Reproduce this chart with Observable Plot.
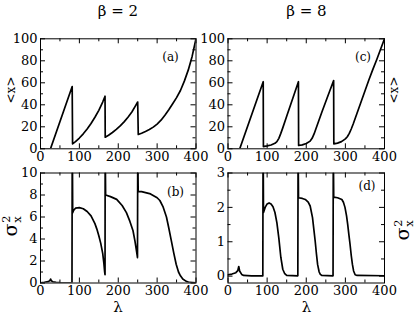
<!DOCTYPE html>
<html><head><meta charset="utf-8">
<script src="https://cdn.jsdelivr.net/npm/d3@7"></script>
<script src="https://cdn.jsdelivr.net/npm/@observablehq/plot@0.6"></script>
<style>
body{margin:0;background:#fff;}
#fig{position:relative;width:415px;height:314px;overflow:hidden;font-family:"DejaVu Serif","Liberation Serif",serif;color:#000;background:#fff;}
.panel{position:absolute;}
.lbl{position:absolute;white-space:nowrap;line-height:1;}
.ss{display:inline-block;font-size:0.6em;line-height:0.95;vertical-align:middle;text-align:left;margin-left:1px;}
.ss span{display:block;}
</style></head><body><div id="fig"></div>
<script>
// ---- data ----
const xMajor = [0, 100, 200, 300, 400];
const xMinor = [50, 150, 250, 350];

// (a) beta = 2, <x>
const lamA = [0,25.7,81.5,82.5,90,100,110,120,130,140,150,160,166,166.5,175,185,195,205,215,225,235,245,250,251.5,260,270,280,290,300,310,320,330,340,350,360,370,380,390,400];
const meanA = [0,0,56.6,4.5,6.5,9.8,13.6,18,23,28.7,35,42.5,47.8,10.5,12.3,14.8,17.6,20.8,24.5,28.7,33.5,39.5,42.5,13,14.2,15.8,17.5,19.7,22.5,26,30.5,35.5,41,46.5,53,61.5,71.5,84,100];

// (c) beta = 8, <x>
const lamC = [0,30,90,90.5,100,110,120,125,130,135,140,150,160,170,180,180.5,190,200,210,215,220,225,230,240,250,260,270,270.5,280,290,300,305,310,315,320,330,340,350,360,370,380,390,400];
const meanC = [0,0,61,2,2.6,3.5,5,6.5,9.5,14,19,29.5,40,50.5,61,3,3.6,4.8,7,9.5,13.5,18.5,23.5,33.5,43,52.5,62,4.5,5.2,6.5,9,11,14,18,22.5,32.5,42.5,52.5,62.5,72,81,90.5,100];

// (b) beta = 2, sigma_x^2
const lamB = [0,10,20,24,26,28,32,40,50,60,81,81.5,82.3,82.8,85,90,100,110,120,130,140,145,150,155,160,163,165,166,166.3,167,167.5,180,196,210,221,230,238,243,247,249.5,250,250.8,251.3,260,283,300,307,315,324,330,336.5,343,349,355,360,366,375,383,400];
const varB = [0.02,0.05,0.12,0.22,0.36,0.2,0.1,0.05,0.03,0.02,0.01,10,10,6.4,6.6,6.8,6.85,6.75,6.5,6.1,5.4,4.9,4.3,3.6,2.7,1.8,1.0,0.75,10,10,8.0,7.85,7.6,7.05,6.4,5.6,4.75,3.8,2.9,2.3,10,10,8.3,8.3,8.1,7.75,7.5,6.95,6.0,5.0,3.85,2.7,1.7,1.0,0.65,0.36,0.15,0.05,0.01];

// (d) beta = 8, sigma_x^2
const lamD = [0,10,20,25,27.5,30,35,40,60,89,89.5,90.2,90.7,95,100,105,110,115,120,125,130,135,140,145,150,178.5,179,179.7,180.2,190,197.5,205,210,216,220,223,226,229,233,236,240,268.5,269,269.7,270.2,280,291,295,299,303,306,309,312,315,318,321,325,330,400];
const varD = [0.04,0.06,0.1,0.16,0.28,0.14,0.05,0.02,0.01,0.01,3,3,1.85,2.0,2.1,2.13,2.1,2.02,1.85,1.55,1.1,0.55,0.2,0.07,0.02,0.01,3,3,2.28,2.26,2.23,2.15,2.04,1.7,1.3,1.0,0.65,0.34,0.12,0.05,0.02,0.01,3,3,2.3,2.28,2.23,2.15,2.0,1.75,1.5,1.2,0.92,0.6,0.34,0.15,0.04,0.02,0.01];

const yMajorMean = [0, 20, 40, 60, 80, 100];
const yMinorMean = [10, 30, 50, 70, 90];
const yMajorB = [0, 2, 4, 6, 8, 10];
const yMinorB = [1, 3, 5, 7, 9];
const yMajorD = [0, 1, 2, 3];
const yMinorD = [0.5, 1.5, 2.5];

const tags = ["(a)", "(b)", "(c)", "(d)"];
const titles = ["β = 2", "β = 8"];
const xLabel = "λ";

// ---- drawing ----
const FONT = "'DejaVu Serif', 'Liberation Serif', serif";
const fig = document.getElementById("fig");

function panel(o) {
  const fw = o.w - o.ml - o.mr, fh = o.h - o.mt - o.mb;
  const M = 5, m = 3;
  const svg = Plot.plot({
    width: o.w, height: o.h,
    marginLeft: o.ml, marginRight: o.mr, marginTop: o.mt, marginBottom: o.mb,
    x: {domain: [0, 400]},
    y: {domain: o.yDomain},
    style: "font-family: " + FONT + "; font-size: 13px; background: transparent; overflow: visible; color: #000;",
    marks: [
      Plot.tickX(xMajor, {x: d => d, insetTop: fh - M, stroke: "#000"}),
      Plot.tickX(xMajor, {x: d => d, insetBottom: fh - M, stroke: "#000"}),
      Plot.tickX(xMinor, {x: d => d, insetTop: fh - m, stroke: "#000"}),
      Plot.tickX(xMinor, {x: d => d, insetBottom: fh - m, stroke: "#000"}),
      Plot.tickY(o.yMajor, {y: d => d, insetRight: fw - M, stroke: "#000"}),
      Plot.tickY(o.yMajor, {y: d => d, insetLeft: fw - M, stroke: "#000"}),
      Plot.tickY(o.yMinor, {y: d => d, insetRight: fw - m, stroke: "#000"}),
      Plot.tickY(o.yMinor, {y: d => d, insetLeft: fw - m, stroke: "#000"}),
      Plot.line(o.lam, {x: o.lam, y: o.val, stroke: "#000", strokeWidth: 1.7, clip: true}),
      Plot.frame({stroke: "#000", strokeWidth: 1}),
      Plot.axisX({ticks: xMajor, tickSize: 0, tickPadding: 3, tickFormat: d => String(d), label: null, fontSize: 13, fontFamily: FONT}),
      Plot.axisY({ticks: o.yMajor, tickSize: 0, tickPadding: 3, tickFormat: d => String(d), label: null, fontSize: 13, fontFamily: FONT}),
      Plot.text([o.tag], {frameAnchor: "top-right", dx: o.tdx, dy: o.tdy, text: d => d, textAnchor: "middle", lineAnchor: "middle", fontSize: 12, fontFamily: FONT})
    ]
  });
  const div = document.createElement("div");
  div.className = "panel";
  div.style.left = o.left + "px";
  div.style.top = o.top + "px";
  div.appendChild(svg);
  fig.appendChild(div);
}

panel({lam: lamA, val: meanA, yDomain: [0, 100], yMajor: yMajorMean, yMinor: yMinorMean,
  left: 0, top: 20, w: 205, h: 150, ml: 40, mr: 9.5, mt: 18.3, mb: 21.7, tag: tags[0], tdx: -25.5, tdy: 18.5});
panel({lam: lamC, val: meanC, yDomain: [0, 100], yMajor: yMajorMean, yMinor: yMinorMean,
  left: 205, top: 20, w: 210, h: 150, ml: 22.5, mr: 31, mt: 18.3, mb: 21.7, tag: tags[2], tdx: -21.5, tdy: 18.5});
panel({lam: lamB, val: varB, yDomain: [0, 10], yMajor: yMajorB, yMinor: yMinorB,
  left: 0, top: 160, w: 205, h: 140, ml: 40, mr: 9.5, mt: 12.5, mb: 17.5, tag: tags[1], tdx: -20.5, tdy: 19});
panel({lam: lamD, val: varD, yDomain: [-0.2, 3], yMajor: yMajorD, yMinor: yMinorD,
  left: 205, top: 160, w: 210, h: 140, ml: 22.5, mr: 31, mt: 12.5, mb: 17.5, tag: tags[3], tdx: -17.5, tdy: 13.5});

function label(html, cx, cy, size, rot, lh) {
  const d = document.createElement("div");
  d.className = "lbl";
  d.innerHTML = html;
  d.style.left = cx + "px";
  d.style.top = cy + "px";
  d.style.fontSize = size + "px";
  if (lh) d.style.lineHeight = lh;
  d.style.transform = "translate(-50%,-50%)" + (rot ? " rotate(" + rot + "deg)" : "");
  fig.appendChild(d);
}
const meanLabel = "&lt;x&gt;";
const varLabel = "σ<span class=\"ss\"><span>2</span><span>x</span></span>";
label(titles[0], 118, 11, 15, 0);
label(titles[1], 306.5, 11, 15, 0);
label(xLabel, 118, 306.5, 15, 0, 0.8);
label(xLabel, 306.5, 306.5, 15, 0, 0.8);
label(meanLabel, 11, 90, 12, -90);
label(meanLabel, 394, 90, 12, -90);
label(varLabel, 12, 226, 19, -90);
label(varLabel, 404, 230, 19, -90);
</script></body></html>
